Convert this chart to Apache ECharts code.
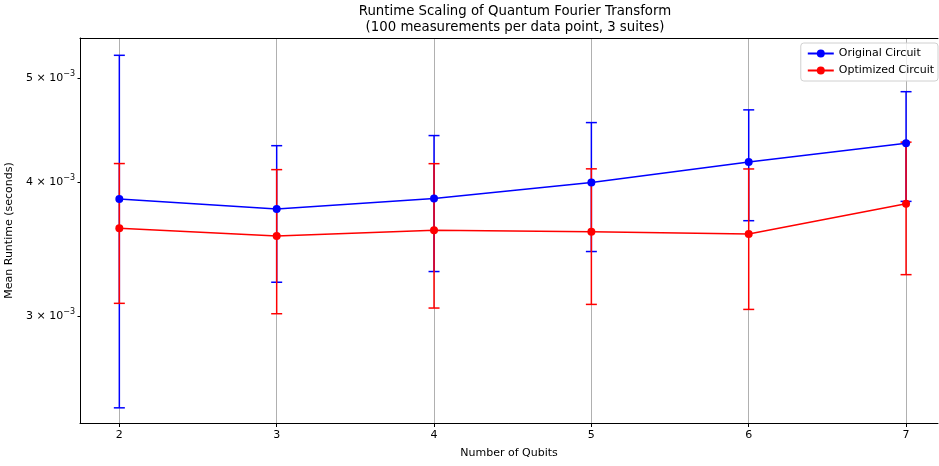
<!DOCTYPE html>
<html>
<head>
<meta charset="utf-8">
<script src="https://cdn.jsdelivr.net/npm/echarts@6/dist/echarts.min.js"></script>
<style>html,body{margin:0;padding:0;background:#fff;}#c{width:939px;height:466px;}</style>
</head>
<body>
<div id="c"></div>
<script>
const qubits = [2, 3, 4, 5, 6, 7];
const originalMean = [0.003859, 0.003777, 0.003862, 0.003997, 0.004178, 0.004349];
const originalErr = [0.001395, 0.00055, 0.00056, 0.00055, 0.000495, 0.00051];
const optimizedMean = [0.003624, 0.003563, 0.003608, 0.003597, 0.003580, 0.003820];
const optimizedErr = [0.00054, 0.000547, 0.000555, 0.00052, 0.000536, 0.00054];
const yTicks = [0.003, 0.004, 0.005];
const xTicks = [2, 3, 4, 5, 6, 7];

const FONT = 'DejaVu Sans';
const chart = echarts.init(document.getElementById('c'));

function errSeries(name, color, means, errs, z) {
  return {
    type: 'custom',
    name: name + ' err',
    z: z,
    silent: true,
    data: qubits.map((q, i) => [q, means[i], errs[i]]),
    encode: { x: 0, y: 1 },
    renderItem: function (params, api) {
      const x = api.value(0), m = api.value(1), e = api.value(2);
      const t = api.coord([x, m + e]);
      const b = api.coord([x, m - e]);
      const cw = 5.5;
      const st = { stroke: color, lineWidth: 1.5 };
      return {
        type: 'group',
        children: [
          { type: 'line', shape: { x1: t[0], y1: t[1], x2: b[0], y2: b[1] }, style: st },
          { type: 'line', shape: { x1: t[0] - cw, y1: t[1], x2: t[0] + cw, y2: t[1] }, style: st },
          { type: 'line', shape: { x1: b[0] - cw, y1: b[1], x2: b[0] + cw, y2: b[1] }, style: st }
        ]
      };
    }
  };
}

function lineSeries(name, color, means, z) {
  return {
    type: 'line',
    name: name,
    z: z,
    data: qubits.map((q, i) => [q, means[i]]),
    symbol: 'circle',
    symbolSize: 8,
    itemStyle: { color: color },
    lineStyle: { color: color, width: 1.5 },
    animation: false
  };
}

chart.setOption({
  animation: false,
  title: {
    text: 'Runtime Scaling of Quantum Fourier Transform\n(100 measurements per data point, 3 suites)',
    left: 510,
    textAlign: 'center',
    top: -1,
    textStyle: { fontFamily: FONT, fontSize: 13.3, fontWeight: 'normal', color: '#000', lineHeight: 16 }
  },
  legend: {
    orient: 'vertical',
    right: 1,
    top: 43,
    data: ['Original Circuit', 'Optimized Circuit'],
    itemWidth: 26,
    itemHeight: 10,
    itemGap: 6,
    padding: [5, 4, 5, 6],
    borderColor: '#d0d0d0',
    borderWidth: 1,
    borderRadius: 3,
    backgroundColor: 'rgba(255,255,255,0.8)',
    textStyle: { fontFamily: FONT, fontSize: 11, color: '#000' }
  },
  grid: { left: 80, top: 38, right: 1, bottom: 43, show: false, containLabel: false, outerBoundsMode: 'none' },
  xAxis: [{
    type: 'value',
    min: 1.75,
    max: 7.203,
    name: 'Number of Qubits',
    nameLocation: 'middle',
    nameGap: 25,
    nameTextStyle: { fontFamily: FONT, fontSize: 11, color: '#000' },
    axisLine: { show: true, onZero: false, lineStyle: { color: '#000', width: 1 } },
    axisTick: { show: true, customValues: xTicks, length: 4, lineStyle: { color: '#000' } },
    axisLabel: { customValues: xTicks, fontFamily: FONT, fontSize: 11, color: '#000', margin: 7 },
    splitLine: { show: true, lineStyle: { color: '#b0b0b0', width: 1 } }
  }, {
    type: 'value',
    position: 'top',
    min: 1.75,
    max: 7.203,
    axisLine: { show: true, onZero: false, lineStyle: { color: '#000', width: 1 } },
    axisTick: { show: false },
    axisLabel: { show: false },
    splitLine: { show: false }
  }],
  yAxis: {
    type: 'log',
    logBase: 10,
    min: 0.002385,
    max: 0.005453,
    name: 'Mean Runtime (seconds)',
    nameLocation: 'middle',
    nameGap: 64,
    nameTextStyle: { fontFamily: FONT, fontSize: 11, color: '#000' },
    axisLine: { show: true, onZero: false, lineStyle: { color: '#000', width: 1 } },
    axisTick: { show: true, customValues: yTicks, length: 2.5, lineStyle: { color: '#000' } },
    axisLabel: {
      customValues: yTicks,
      margin: 5,
      formatter: function (v) {
        const mant = Math.round(v * 1000);
        return '{b|' + mant + ' \u00d7 10}{s|\u22123}';
      },
      rich: {
        b: { fontFamily: FONT, fontSize: 11, color: '#000' },
        s: { fontFamily: FONT, fontSize: 8, color: '#000', padding: [0, 0, 8, 0] }
      }
    },
    splitLine: { show: false },
    minorTick: { show: false },
    minorSplitLine: { show: false }
  },
  series: [
    errSeries('Original Circuit', '#0000ff', originalMean, originalErr, 2),
    errSeries('Optimized Circuit', '#ff0000', optimizedMean, optimizedErr, 3),
    lineSeries('Original Circuit', '#0000ff', originalMean, 4),
    lineSeries('Optimized Circuit', '#ff0000', optimizedMean, 5)
  ]
});
</script>
</body>
</html>
